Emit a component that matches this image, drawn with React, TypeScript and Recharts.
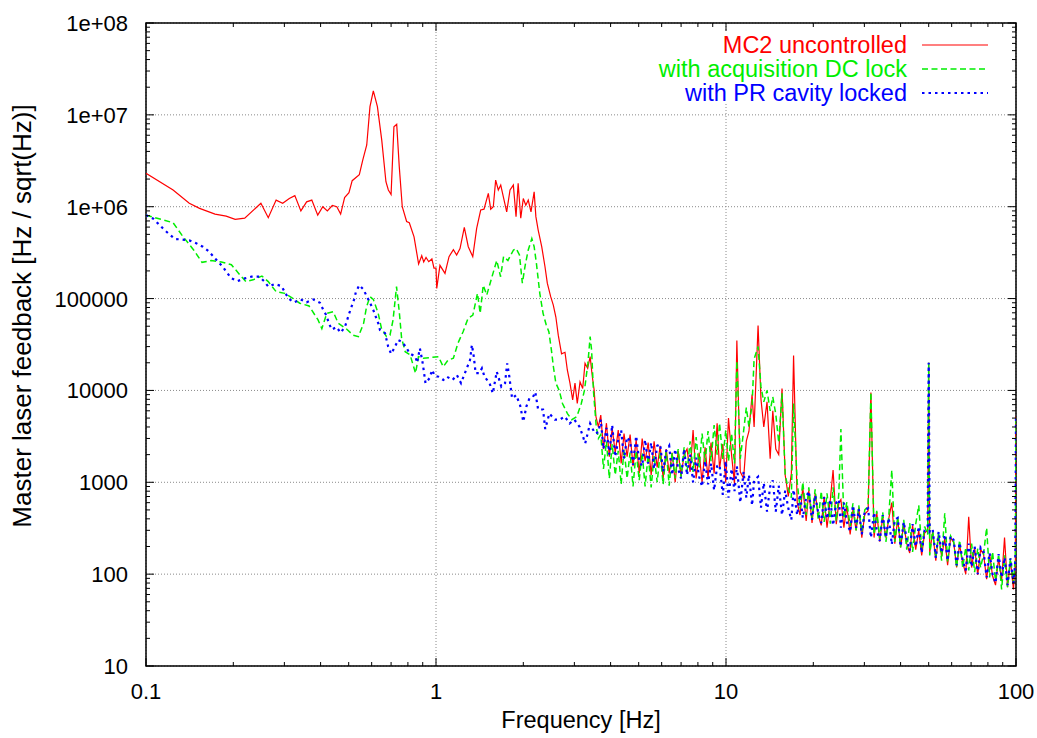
import { CartesianGrid, Line, LineChart, ReferenceArea, XAxis, YAxis } from "recharts";

// Frame geometry (page is photographed at 1037x738, chart pinned to 0,0)
const W = 1037;
const H = 738;
const Y_AXIS_W = 146;
const X_AXIS_H = 72;
const MARGIN = { top: 23, right: 21, bottom: 0, left: 0 };
const PLOT_W = W - MARGIN.left - MARGIN.right - Y_AXIS_W;
const PLOT_H = H - MARGIN.top - MARGIN.bottom - X_AXIS_H;
const FONT = '"Liberation Sans", Arial, Helvetica, sans-serif';
const TICK_FONT = 22;
const TITLE_FONT = 23.5;

// Axis ticks
const xMajor = [0.1, 1, 10, 100];
const xLabels = ["0.1", "1", "10", "100"];
const yMajor = [10, 100, 1000, 10000, 100000, 1e6, 1e7, 1e8];
const yLabels = ["10", "100", "1000", "10000", "100000", "1e+06", "1e+07", "1e+08"];
const minorSteps = [2, 3, 4, 5, 6, 7, 8, 9];

// Below ~3.6 Hz, read point by point: [frequency Hz, Hz/sqrt(Hz)]
const redLow: [number, number][] = [
  [0.1, 2.31e6], [0.124, 1.52e6], [0.141, 1.09e6], [0.153, 9.6e5], [0.173, 8.3e5],
  [0.189, 7.9e5], [0.203, 7.3e5], [0.219, 7.5e5], [0.249, 1.09e6], [0.264, 7.6e5],
  [0.281, 1.18e6], [0.296, 1.09e6], [0.312, 1.23e6], [0.326, 1.32e6], [0.342, 9.0e5],
  [0.358, 1.13e6], [0.373, 1.18e6], [0.391, 8.1e5], [0.407, 1.0e6], [0.422, 9.0e5],
  [0.439, 1.03e6], [0.455, 1.0e6], [0.469, 8.3e5], [0.484, 1.26e6], [0.501, 1.42e6],
  [0.514, 1.92e6], [0.544, 2.23e6], [0.559, 3.22e6], [0.577, 4.7e6], [0.592, 1.23e7],
  [0.608, 1.82e7], [0.628, 1.23e7], [0.65, 5.3e6], [0.672, 1.87e6], [0.685, 1.52e6],
  [0.7, 1.36e6], [0.716, 7.4e6], [0.732, 7.9e6], [0.747, 2.73e6], [0.765, 1.0e6],
  [0.792, 6.9e5], [0.809, 6.7e5], [0.84, 4.7e5], [0.871, 2.38e5], [0.893, 2.93e5],
  [0.907, 2.5e5], [0.924, 2.8e5], [0.944, 2.52e5], [0.968, 2.7e5], [0.984, 2.14e5],
  [1.0, 2.14e5], [1.006, 1.29e5], [1.032, 2.3e5], [1.074, 1.88e5], [1.109, 2.86e5],
  [1.148, 3.4e5], [1.178, 2.98e5], [1.21, 3.5e5], [1.252, 5.97e5], [1.292, 3.67e5],
  [1.339, 2.86e5], [1.381, 5.8e5], [1.426, 9.2e5], [1.464, 9.4e5], [1.515, 1.4e6],
  [1.544, 9.4e5], [1.576, 1.0e6], [1.606, 1.95e6], [1.64, 1.52e6], [1.672, 1.72e6],
  [1.707, 1.28e6], [1.753, 8.8e5], [1.8, 1.52e6], [1.848, 1.72e6], [1.888, 7.8e5],
  [1.92, 1.8e6], [1.96, 7.5e5], [2.0, 1.23e6], [2.04, 1.04e6], [2.08, 1.18e6],
  [2.126, 8.8e5], [2.18, 1.45e6], [2.21, 7.8e5], [2.25, 5.6e5], [2.315, 3.67e5],
  [2.376, 2.22e5], [2.42, 1.47e5], [2.486, 1.05e5], [2.538, 8.5e4], [2.59, 6.3e4],
  [2.64, 4.0e4], [2.71, 2.5e4], [2.785, 2.6e4], [2.837, 1.67e4], [2.897, 1.2e4],
  [2.96, 7.9e3], [3.015, 1.2e4], [3.07, 7.2e3], [3.138, 1.24e4], [3.205, 1.05e4],
  [3.265, 1.97e4], [3.335, 1.74e4], [3.4, 2.33e4], [3.46, 1.41e4], [3.51, 1.01e4],
  [3.56, 5.2e3], [3.63, 4.0e3],
];

const greenLow: [number, number][] = [
  [0.1, 8.1e5], [0.124, 6.7e5], [0.133, 4.9e5], [0.146, 3.38e5], [0.156, 2.48e5],
  [0.168, 2.6e5], [0.182, 2.5e5], [0.197, 2.34e5], [0.211, 1.8e5], [0.221, 1.53e5],
  [0.234, 1.6e5], [0.251, 1.76e5], [0.264, 1.53e5], [0.281, 1.19e5], [0.301, 1.14e5],
  [0.322, 1.0e5], [0.339, 8.9e4], [0.365, 8.3e4], [0.392, 5.85e4], [0.404, 4.7e4],
  [0.42, 6.9e4], [0.442, 7.2e4], [0.46, 5.4e4], [0.49, 4.7e4], [0.518, 4.0e4],
  [0.54, 3.85e4], [0.563, 5.4e4], [0.576, 8.1e4], [0.592, 1.05e5], [0.608, 9.8e4],
  [0.632, 6.9e4], [0.649, 4.7e4], [0.675, 3.85e4], [0.694, 4.0e4], [0.711, 5.85e4],
  [0.731, 1.35e5], [0.748, 6.9e4], [0.761, 3.7e4], [0.783, 2.64e4], [0.814, 2.44e4],
  [0.85, 1.54e4], [0.87, 2.33e4], [0.904, 2.24e4], [0.965, 2.29e4], [1.02, 2.33e4],
  [1.059, 1.81e4], [1.1, 2.14e4], [1.148, 2.24e4], [1.19, 3.26e4], [1.24, 4.36e4],
  [1.29, 6.1e4], [1.34, 6.6e4], [1.39, 1.14e5], [1.42, 6.9e4], [1.455, 1.4e5],
  [1.496, 1.09e5], [1.56, 1.73e5], [1.62, 2.6e5], [1.67, 1.73e5], [1.71, 2.86e5],
  [1.77, 2.6e5], [1.85, 3.38e5], [1.89, 3.5e5], [1.94, 2.98e5], [1.985, 1.47e5],
  [2.03, 2.3e5], [2.08, 3.38e5], [2.14, 4.5e5], [2.18, 3.67e5], [2.22, 2.4e5],
  [2.28, 1.14e5], [2.34, 6.9e4], [2.4, 5.15e4], [2.45, 4.36e4], [2.5, 2.75e4],
  [2.54, 1.81e4], [2.59, 1.2e4], [2.66, 1.0e4], [2.73, 7.2e3], [2.84, 5.6e3],
  [2.94, 4.8e3], [3.06, 5.2e3], [3.17, 7.2e3], [3.25, 1.0e4], [3.34, 1.97e4],
  [3.4, 3.85e4], [3.44, 2.75e4], [3.49, 1.0e4], [3.57, 4.0e3], [3.63, 3.0e3],
];

const blueLow: [number, number][] = [
  [0.1, 8.1e5], [0.106, 7.4e5], [0.115, 5.7e5], [0.12, 5.05e5], [0.126, 4.45e5],
  [0.133, 4.4e5], [0.141, 4.3e5], [0.149, 4.0e5], [0.157, 3.67e5], [0.164, 3.3e5],
  [0.171, 2.86e5], [0.178, 2.48e5], [0.184, 2.22e5], [0.191, 1.88e5], [0.197, 1.66e5],
  [0.207, 1.55e5], [0.219, 1.66e5], [0.231, 1.73e5], [0.246, 1.73e5], [0.255, 1.55e5],
  [0.264, 1.35e5], [0.278, 1.44e5], [0.293, 1.37e5], [0.31, 1.0e5], [0.324, 9.1e4],
  [0.341, 9.8e4], [0.358, 9.1e4], [0.377, 9.8e4], [0.398, 9.0e4], [0.408, 7.6e4],
  [0.42, 6.45e4], [0.426, 5.5e4], [0.437, 4.6e4], [0.454, 4.9e4], [0.469, 4.25e4],
  [0.485, 4.9e4], [0.494, 5.85e4], [0.502, 6.9e4], [0.511, 8.1e4], [0.522, 9.8e4],
  [0.529, 1.17e5], [0.544, 1.4e5], [0.562, 1.26e5], [0.576, 1.07e5], [0.592, 9.0e4],
  [0.608, 7.5e4], [0.621, 6.25e4], [0.632, 5.4e4], [0.641, 4.55e4], [0.667, 4.2e4],
  [0.684, 3.0e4], [0.7, 2.5e4], [0.72, 2.93e4], [0.74, 3.54e4], [0.76, 3.4e4],
  [0.787, 3.0e4], [0.81, 2.54e4], [0.85, 2.33e4], [0.86, 2.0e4], [0.88, 2.87e4],
  [0.9, 1.97e4], [0.92, 1.2e4], [0.95, 1.36e4], [0.97, 1.67e4], [0.99, 1.44e4],
  [1.02, 1.41e4], [1.06, 1.3e4], [1.09, 1.41e4], [1.14, 1.3e4], [1.18, 1.47e4],
  [1.22, 1.2e4], [1.27, 1.67e4], [1.31, 2.14e4], [1.33, 3.13e4], [1.35, 2.33e4],
  [1.37, 1.54e4], [1.41, 1.54e4], [1.44, 1.74e4], [1.47, 1.41e4], [1.53, 1.2e4],
  [1.57, 9.3e3], [1.62, 1.6e4], [1.68, 1.1e4], [1.73, 1.2e4], [1.76, 1.97e4],
  [1.79, 1.41e4], [1.83, 8.2e3], [1.89, 8.9e3], [1.95, 6.9e3], [2.0, 4.57e3],
  [2.05, 6.7e3], [2.1, 8.2e3], [2.16, 8.5e3], [2.2, 9.6e3], [2.25, 6.2e3],
  [2.34, 6.2e3], [2.38, 3.8e3], [2.46, 5.6e3], [2.57, 4.8e3], [2.67, 4.8e3],
  [2.78, 5.2e3], [2.89, 4.37e3], [3.0, 4.8e3], [3.13, 4.0e3], [3.27, 2.66e3],
  [3.4, 4.37e3], [3.53, 3.4e3], [3.63, 3.5e3],
];

// Above 3.7 Hz the three spectra share one frequency grid
const hfFreq = [
  3.7, 3.78, 3.87, 3.96, 4.05, 4.15, 4.25, 4.35, 4.45, 4.56,
  4.67, 4.78, 4.9, 5.02, 5.14, 5.26, 5.39, 5.52, 5.65, 5.79,
  5.93, 6.07, 6.22, 6.37, 6.52, 6.68, 6.84, 7.0, 7.17, 7.34,
  7.52, 7.7, 7.89, 8.08, 8.27, 8.47, 8.67, 8.88, 9.1, 9.32,
  9.5, 9.75, 9.98, 10.2, 10.45, 10.7, 10.9, 11.2, 11.5, 11.75,
  12.0, 12.3, 12.5, 12.9, 13.2, 13.5, 13.85, 14.2, 14.5, 14.85,
  15.2, 15.6, 16.0, 16.4, 16.8, 17.1, 17.6, 18.0, 18.4, 18.9,
  19.3, 19.8, 20.3, 20.8, 21.3, 21.8, 22.3, 22.9, 23.4, 24.0,
  24.5, 24.9, 25.5, 26.1, 26.8, 27.4, 28.1, 28.7, 29.4, 30.1,
  30.9, 31.6, 32.4, 33.1, 33.9, 34.7, 35.6, 36.4, 37.3, 38.2,
  39.1, 40.0, 41.0, 42.0, 43.0, 44.0, 45.1, 46.2, 47.3, 48.4,
  49.6, 50.0, 50.4, 51.6, 52.9, 54.1, 55.4, 56.8, 58.1, 59.5,
  61.0, 62.4, 63.9, 65.5, 67.1, 68.7, 70.3, 72.0, 73.8, 75.5,
  77.3, 79.2, 81.1, 83.0, 85.0, 87.1, 89.2, 91.3, 93.5, 95.7,
  98.0, 99.5, 100,
];

const redHigh = [
  5400, 2300, 4400, 1900, 3900, 2100, 3700, 1600, 3400, 1900,
  3300, 1500, 2900, 1250, 3000, 1700, 2700, 1200, 2800, 1450,
  2500, 1100, 2300, 1250, 2100, 1000, 2200, 1150, 2000, 2300,
  1300, 3700, 1100, 2100, 1000, 2400, 1100, 2700, 1250, 4400,
  1400, 2600, 1000, 5000, 2000, 950, 35000, 1300, 1100, 2800,
  3600, 9000, 4000, 51000, 8000, 4000, 7500, 1800, 6000, 2300,
  2000, 10500, 1200, 700, 1250, 24000, 600, 440, 880, 380,
  820, 360, 760, 440, 340, 700, 320, 650, 1360, 350,
  600, 650, 320, 550, 270, 500, 300, 530, 250, 450,
  490, 9500, 250, 470, 225, 420, 250, 400, 600, 215,
  400, 195, 350, 215, 170, 340, 185, 300, 160, 280,
  300, 20000, 170, 290, 140, 270, 155, 245, 125, 250,
  220, 118, 210, 135, 100, 420, 118, 195, 98, 185,
  165, 88, 165, 96, 76, 150, 84, 250, 72, 140,
  68, 135, 5200,
];

const greenHigh = [
  3300, 1400, 2800, 1100, 2600, 1200, 2200, 950, 2300, 1100,
  2100, 900, 2200, 1050, 2100, 900, 2000, 880, 1950, 1000,
  2100, 950, 2200, 920, 2100, 1100, 2300, 1150, 2400, 1300,
  2800, 1300, 3100, 1450, 3400, 1650, 3600, 1700, 4200, 2000,
  4400, 1800, 3700, 1700, 3400, 1600, 21000, 1800, 3600, 6500,
  4000, 7000, 22000, 30000, 11000, 7500, 10000, 6000, 8500, 5500,
  2700, 9300, 1200, 850, 680, 7200, 1000, 520, 1000, 440,
  880, 410, 840, 390, 800, 370, 760, 355, 880, 380,
  760, 3800, 400, 610, 335, 590, 300, 560, 285, 500,
  550, 9600, 270, 490, 245, 470, 225, 420, 1360, 225,
  420, 195, 390, 185, 360, 175, 350, 560, 185, 330,
  270, 20000, 160, 300, 150, 280, 140, 460, 135, 260,
  225, 118, 235, 118, 195, 110, 215, 105, 190, 118,
  165, 320, 92, 175, 84, 165, 68, 160, 72, 150,
  80, 160, 5200,
];

const blueHigh = [
  4800, 2300, 3900, 2000, 4200, 1900, 2900, 3700, 1800, 3100,
  2800, 1550, 3200, 1700, 1500, 2900, 1600, 2700, 1400, 2500,
  2600, 1300, 2200, 2500, 1200, 2300, 1400, 1100, 2300, 1200,
  2000, 1000, 1850, 1150, 900, 1700, 950, 1600, 820, 1500,
  1550, 730, 1700, 680, 1400, 800, 1500, 600, 1300, 680,
  1200, 560, 1050, 1150, 530, 980, 480, 900, 1050, 480,
  920, 440, 810, 520, 390, 830, 440, 740, 410, 690,
  800, 390, 720, 460, 360, 690, 400, 650, 340, 600,
  650, 320, 600, 370, 290, 560, 320, 510, 270, 490,
  520, 250, 470, 300, 230, 440, 250, 410, 210, 390,
  410, 200, 370, 240, 180, 350, 200, 330, 170, 300,
  330, 20000, 290, 310, 150, 290, 170, 270, 140, 260,
  235, 125, 220, 140, 110, 215, 120, 200, 100, 195,
  175, 92, 170, 100, 80, 165, 92, 152, 76, 148,
  80, 140, 5200,
];

type Pt = { f: number; v: number };

function buildSeries(low: [number, number][], high: number[]): Pt[] {
  const pts = low.map(([f, v]) => ({ f, v }));
  hfFreq.forEach((f, i) => pts.push({ f, v: high[i] }));
  return pts;
}

const series = [
  { name: "MC2 uncontrolled", color: "#ff0000", width: 1.2, dash: undefined, data: buildSeries(redLow, redHigh) },
  { name: "with acquisition DC lock", color: "#00ee00", width: 1.5, dash: "6 3.5", data: buildSeries(greenLow, greenHigh) },
  { name: "with PR cavity locked", color: "#0000ff", width: 2.2, dash: "2.5 4", data: buildSeries(blueLow, blueHigh) },
];

const xTicks = xMajor.flatMap((d, i) => (i < xMajor.length - 1 ? [d, ...minorSteps.map(m => m * d)] : [d]));
const yTicks = yMajor.flatMap((d, i) => (i < yMajor.length - 1 ? [d, ...minorSteps.map(m => m * d)] : [d]));

function XTick(props: any) {
  const { x, y, payload } = props;
  const i = xMajor.indexOf(payload.value);
  const len = i >= 0 ? 8 : 4;
  return (
    <g>
      <line x1={x} x2={x} y1={y} y2={y - len} stroke="#000" />
      <line x1={x} x2={x} y1={y - PLOT_H} y2={y - PLOT_H + len} stroke="#000" />
      {i >= 0 && (
        <text x={x} y={y + 33} textAnchor="middle" fontFamily={FONT} fontSize={TICK_FONT} fill="#000">
          {xLabels[i]}
        </text>
      )}
    </g>
  );
}

function YTick(props: any) {
  const { x, y, payload } = props;
  const i = yMajor.indexOf(payload.value);
  const len = i >= 0 ? 8 : 4;
  return (
    <g>
      <line x1={x} x2={x + len} y1={y} y2={y} stroke="#000" />
      <line x1={x + PLOT_W} x2={x + PLOT_W - len} y1={y} y2={y} stroke="#000" />
      {i >= 0 && (
        <text x={x - 18} y={y + 8} textAnchor="end" fontFamily={FONT} fontSize={TICK_FONT} fill="#000">
          {yLabels[i]}
        </text>
      )}
    </g>
  );
}

function Legend() {
  const rowTop = [33, 57, 81];
  return (
    <div
      style={{
        position: "absolute",
        left: 640,
        top: 32,
        width: 370,
        height: 72,
        background: "#fff",
      }}
    >
      {series.map((s, i) => (
        <div key={s.name} style={{ position: "absolute", left: 0, top: rowTop[i] - 32, width: 370, height: 24 }}>
          <div
            style={{
              position: "absolute",
              right: 370 - 267,
              top: 0,
              whiteSpace: "nowrap",
              fontFamily: FONT,
              fontSize: TITLE_FONT,
              lineHeight: "24px",
              color: s.color,
            }}
          >
            {s.name}
          </div>
          <svg style={{ position: "absolute", left: 282, top: 0 }} width={66} height={24}>
            <line x1={0} x2={66} y1={12} y2={12} stroke={s.color} strokeWidth={s.width} strokeDasharray={s.dash} />
          </svg>
        </div>
      ))}
    </div>
  );
}

export default function App() {
  return (
    <div style={{ position: "absolute", left: 0, top: 0, width: W, height: H, background: "#fff" }}>
      <LineChart width={W} height={H} margin={MARGIN}>
        <CartesianGrid
          stroke="#8a8a8a"
          strokeDasharray="1 2"
          horizontalValues={yMajor}
          verticalValues={xMajor}
        />
        <XAxis
          dataKey="f"
          type="number"
          scale="log"
          domain={[0.1, 100]}
          allowDataOverflow
          ticks={xTicks}
          interval={0}
          tick={(p: any) => <XTick {...p} />}
          tickLine={false}
          axisLine={false}
          tickSize={0}
          tickMargin={0}
          height={X_AXIS_H}
          label={{
            content: () => (
              <text
                x={Y_AXIS_W + PLOT_W / 2}
                y={728}
                textAnchor="middle"
                fontFamily={FONT}
                fontSize={TITLE_FONT}
                fill="#000"
              >
                Frequency [Hz]
              </text>
            ),
          }}
        />
        <YAxis
          type="number"
          scale="log"
          domain={[10, 1e8]}
          allowDataOverflow
          ticks={yTicks}
          interval={0}
          tick={(p: any) => <YTick {...p} />}
          tickLine={false}
          axisLine={false}
          tickSize={0}
          tickMargin={0}
          width={Y_AXIS_W}
          label={{
            content: () => (
              <text
                x={0}
                y={0}
                transform="translate(31, 316) rotate(-90)"
                textAnchor="middle"
                fontFamily={FONT}
                fontSize={26}
                fill="#000"
              >
                Master laser feedback [Hz / sqrt(Hz)]
              </text>
            ),
          }}
        />
        {series.map(s => (
          <Line
            key={s.name}
            data={s.data}
            dataKey="v"
            type="linear"
            stroke={s.color}
            strokeWidth={s.width}
            strokeDasharray={s.dash}
            dot={false}
            activeDot={false}
            isAnimationActive={false}
          />
        ))}
        <ReferenceArea
          x1={0.1}
          x2={100}
          y1={10}
          y2={1e8}
          fill="none"
          stroke="#000"
          strokeWidth={1.5}
          ifOverflow="visible"
        />
      </LineChart>
      <Legend />
    </div>
  );
}
